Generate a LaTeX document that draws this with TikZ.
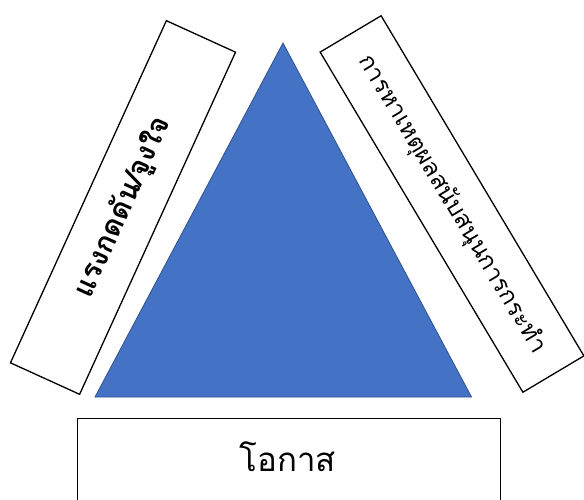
\documentclass[tikz,border=0pt]{standalone}
\usepackage{fontspec}
\newfontfamily\thaifont[Script=Thai]{Loma}
\definecolor{triblue}{HTML}{4472C4}
\definecolor{triedge}{HTML}{2F528F}
\begin{document}
\begin{tikzpicture}[x=1pt,y=-1pt,
  sidebox/.style={draw=black,line width=1.3pt,fill=white,rectangle,inner sep=0pt},
  label/.style={font=\thaifont,inner sep=0pt}]
\useasboundingbox (0,0) rectangle (584,500);
% central triangle
\coordinate (apex) at (283,43);
\coordinate (bl) at (95,397);
\coordinate (br) at (471.5,397);
\draw[fill=triblue,draw=triedge,line width=0.8pt] (apex) -- (bl) -- (br) -- cycle;
% left tilted box
\node[sidebox,rotate=65.5,minimum width=376pt,minimum height=76pt,
      font=\thaifont\bfseries\fontsize{29}{33}\selectfont] (press) at (123,207.5) {แรงกดดัน/จูงใจ};
% right tilted box
\node[sidebox,rotate=-59.2,minimum width=396pt,minimum height=71pt,
      font=\thaifont\fontsize{24}{28}\selectfont] (reason) at (452,204) {การหาเหตุผลสนับสนุนการกระทำ};
% bottom box (runs past the lower edge)
\node[sidebox,anchor=north west,minimum width=423pt,minimum height=95pt] (oppbox) at (77,418) {};
\node[label,font=\thaifont\fontsize{33}{38}\selectfont] (opp) at (288,457) {โอกาส};
\end{tikzpicture}
\end{document}
